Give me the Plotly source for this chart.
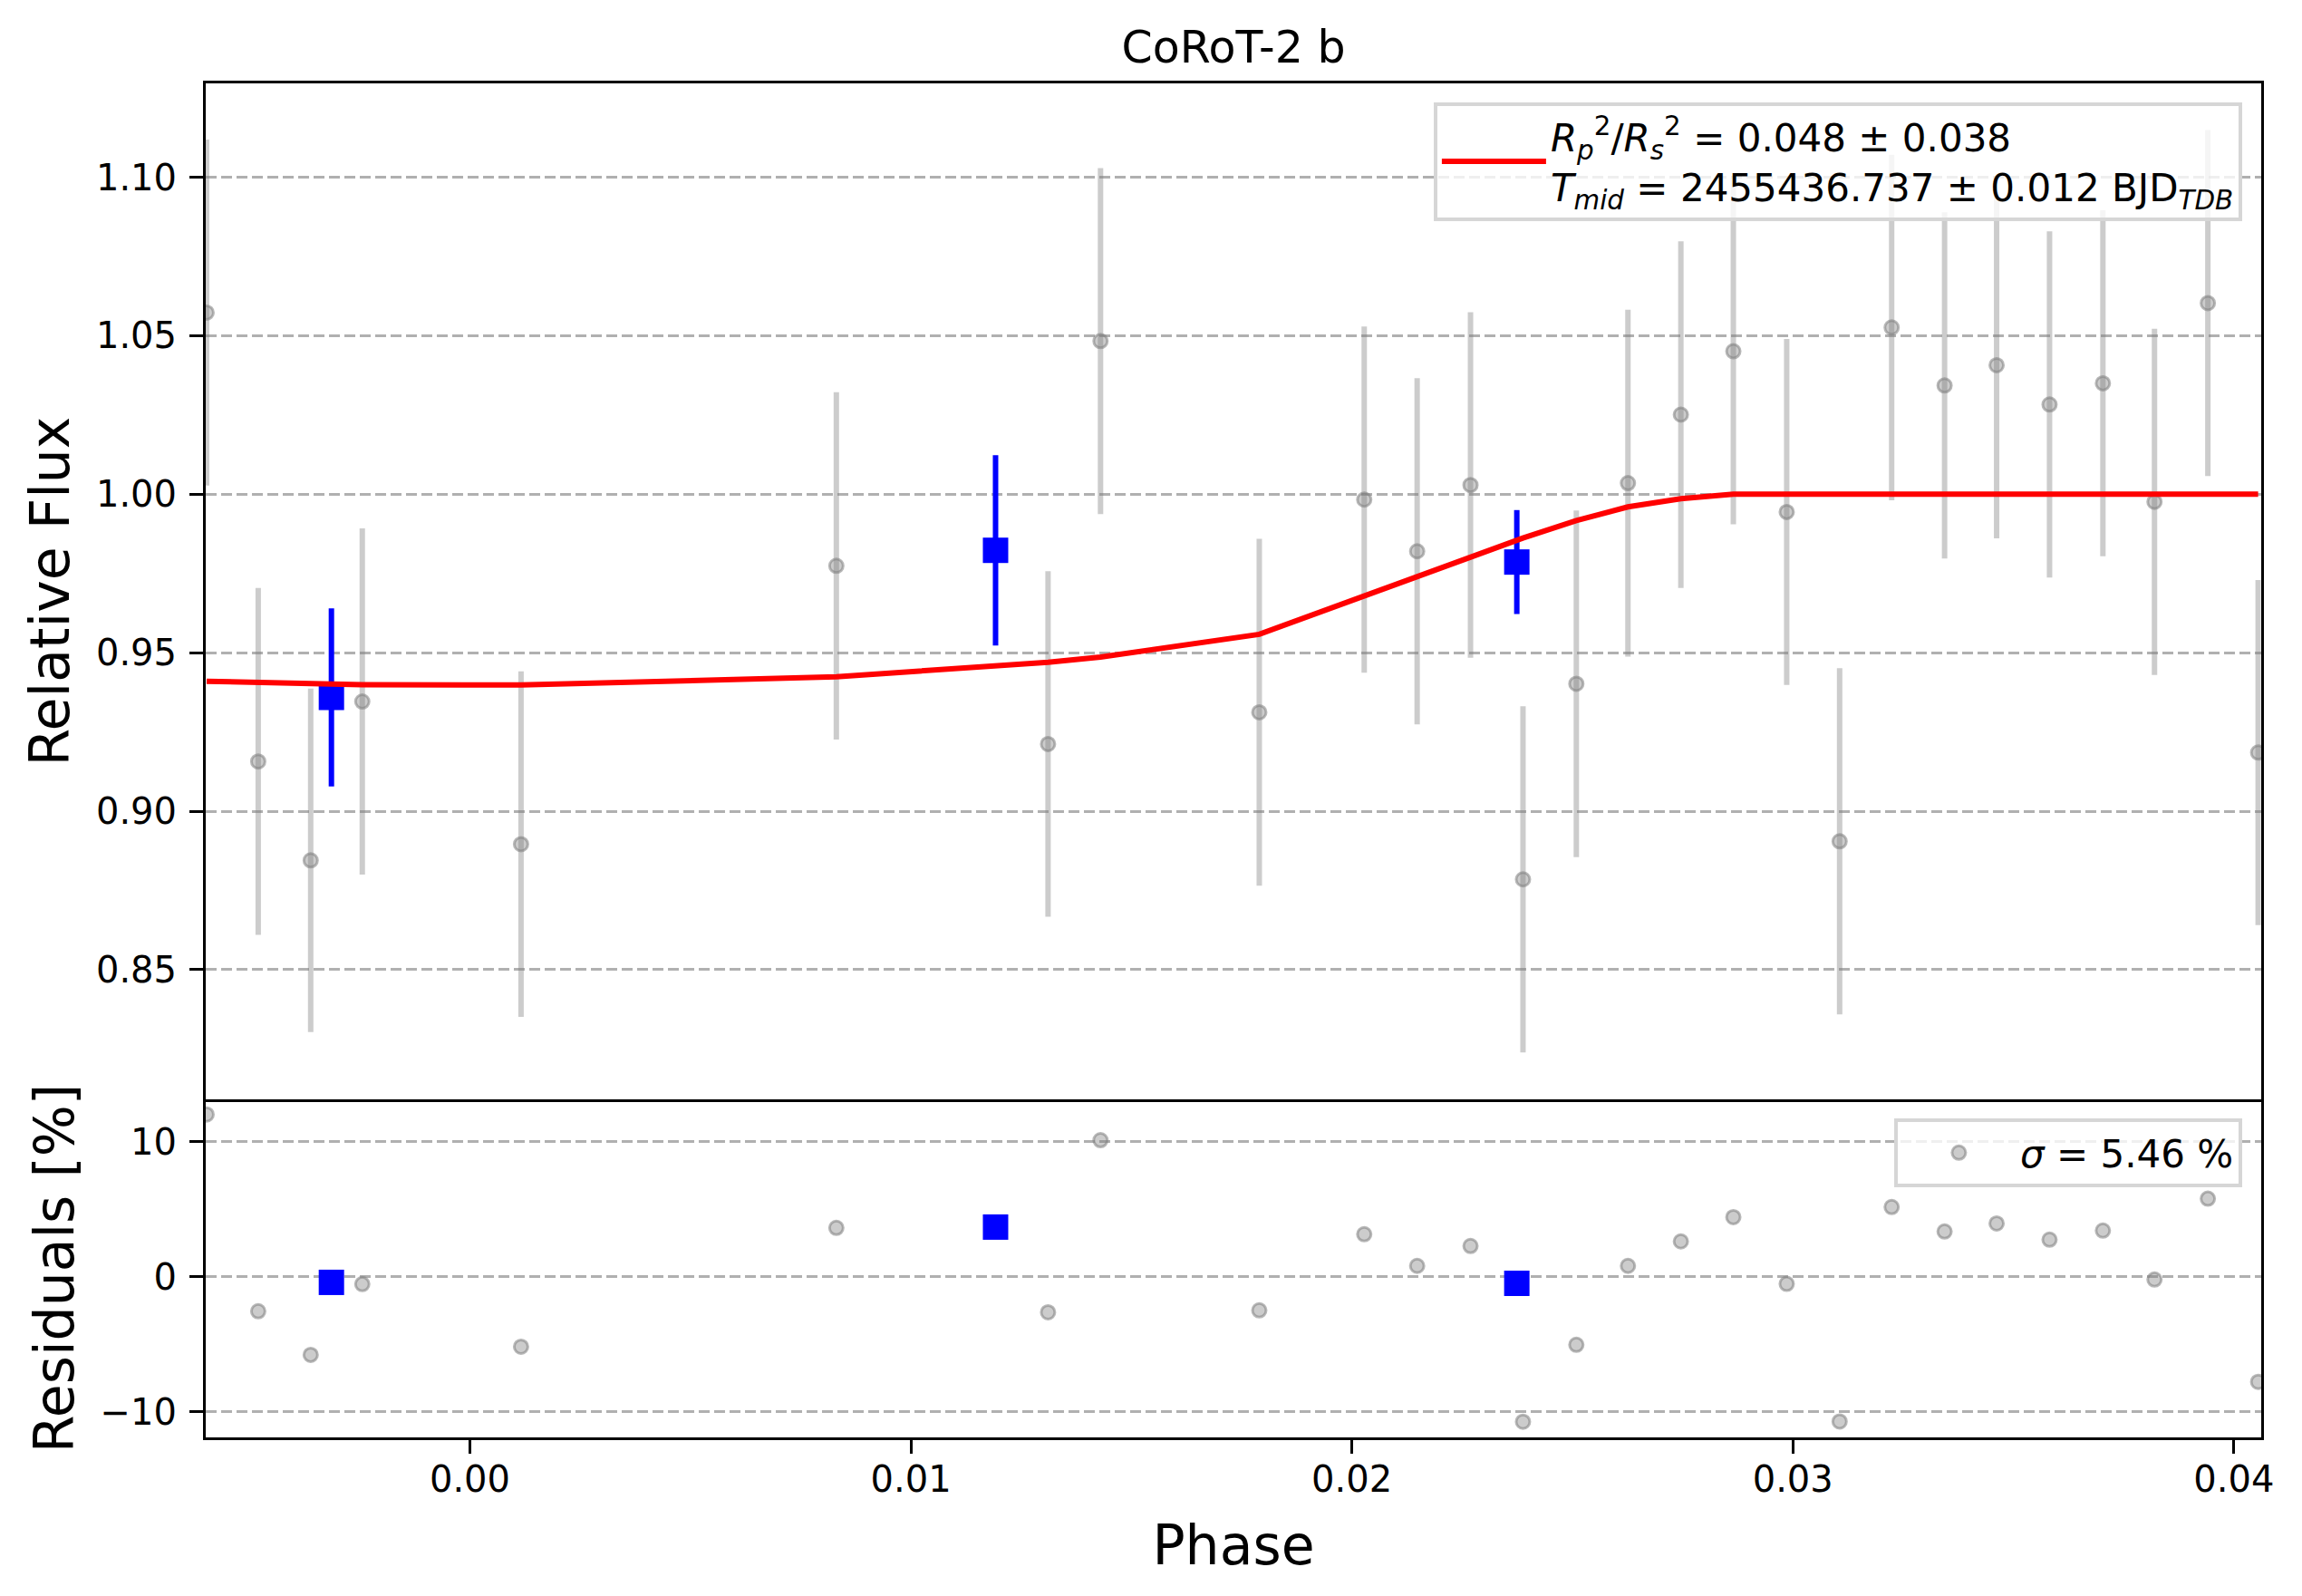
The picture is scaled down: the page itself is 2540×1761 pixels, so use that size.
import plotly.graph_objects as go
from plotly.subplots import make_subplots

# ---- data ----
phase = [-0.00597, -0.00480, -0.00361, -0.00244, 0.00116, 0.00831, 0.01311, 0.01430,
         0.01790, 0.02028, 0.02148, 0.02269, 0.02388, 0.02509, 0.02626, 0.02746,
         0.02865, 0.02986, 0.03106, 0.03224, 0.03344, 0.03462, 0.03582, 0.03703,
         0.03820, 0.03941, 0.04055]
flux = [1.0573, 0.9157, 0.8845, 0.9346, 0.8896, 0.9774, 0.9212, 1.0483,
        0.9312, 0.9983, 0.9820, 1.0029, 0.8785, 0.9402, 1.0035, 1.0251,
        1.0451, 0.9944, 0.8905, 1.0526, 1.0343, 1.0407, 1.0283, 1.0350,
        0.9976, 1.0603, 0.9185]
flux_err = [0.0546, 0.0547, 0.0542, 0.0546, 0.0545, 0.0548, 0.0545, 0.0546,
            0.0547, 0.0546, 0.0546, 0.0545, 0.0546, 0.0547, 0.0547, 0.0547,
            0.0546, 0.0546, 0.0546, 0.0545, 0.0546, 0.0546, 0.0546, 0.0546,
            0.0546, 0.0546, 0.0544]
model = [0.9410, 0.9405, 0.9401, 0.9399, 0.9398, 0.9424, 0.9470, 0.9486,
         0.9558, 0.9678, 0.9740, 0.9804, 0.9862, 0.9917, 0.9960, 0.9986,
         1.0000, 1.0000, 1.0000, 1.0000, 1.0000, 1.0000, 1.0000, 1.0000,
         1.0000, 1.0000, 1.0000]
residuals = [12.01, -2.55, -5.77, -0.54, -5.17, 3.62, -2.62, 10.11,
             -2.48, 3.15, 0.81, 2.28, -10.72, -5.03, 0.81, 2.62,
             4.42, -0.52, -10.70, 5.16, 3.35, 3.95, 2.75, 3.42,
             -0.20, 5.78, -7.77]

bin_phase = [-0.00314, 0.01192, 0.02374]
bin_flux = [0.9359, 0.9823, 0.9786]
bin_err = [0.0281, 0.0300, 0.0164]
bin_resid = [-0.41, 3.68, -0.48]

title_text = "CoRoT-2 b"
model_label = ("<i>R</i><sub><i>p</i></sub><sup>2</sup>/<i>R</i><sub><i>s</i></sub><sup>2</sup>"
               " = 0.048 ± 0.038<br><i>T</i><sub><i>mid</i></sub> = 2455436.737 ± 0.012 "
               "BJD<sub><i>TDB</i></sub>")
resid_label = "<i>σ</i> = 5.46 %"

flux_ticks = [0.85, 0.90, 0.95, 1.00, 1.05, 1.10]
flux_ticktext = ["0.85", "0.90", "0.95", "1.00", "1.05", "1.10"]
res_ticks = [-10, 0, 10]
res_ticktext = ["\u221210", "0", "10"]
phase_ticks = [0.00, 0.01, 0.02, 0.03, 0.04]
phase_ticktext = ["0.00", "0.01", "0.02", "0.03", "0.04"]

x_range = [-0.00599, 0.04062]
flux_range = [0.8091, 1.1296]
res_range = [-11.88, 13.13]

# ---- figure ----
# the page body adds an 8px offset, so the figure is 8px smaller and shifted
OFF = 8
W, H = 2540 - OFF, 1761 - OFF
ml, mr, mt, mb = 227 - OFF, 45, 92 - OFF, 175
split = (1586 - 1213) / (1586 - 92)

FONT = "DejaVu Sans"
gray = "rgba(128,128,128,0.4)"
gray_edge = "rgba(128,128,128,0.55)"

fig = make_subplots(rows=2, cols=1, shared_xaxes=True, vertical_spacing=0,
                    row_heights=[1 - split, split])

fig.add_trace(go.Scatter(
    x=phase, y=flux, mode="markers",
    marker=dict(size=15, color=gray, line=dict(color=gray_edge, width=3)),
    error_y=dict(type="data", array=flux_err, color=gray, thickness=6, width=0),
    showlegend=False, hoverinfo="skip"), row=1, col=1)

fig.add_trace(go.Scatter(
    x=bin_phase, y=bin_flux, mode="markers",
    marker=dict(size=28, symbol="square", color="blue", line=dict(width=0)),
    error_y=dict(type="data", array=bin_err, color="blue", thickness=6, width=0),
    showlegend=False), row=1, col=1)

fig.add_trace(go.Scatter(
    x=phase, y=model, mode="lines", line=dict(color="red", width=6),
    name=model_label, legend="legend", showlegend=True), row=1, col=1)

fig.add_trace(go.Scatter(
    x=phase, y=residuals, mode="markers",
    marker=dict(size=15, color=gray, line=dict(color=gray_edge, width=3)),
    name=resid_label, legend="legend2", showlegend=True), row=2, col=1)

fig.add_trace(go.Scatter(
    x=bin_phase, y=bin_resid, mode="markers",
    marker=dict(size=28, symbol="square", color="blue", line=dict(width=0)),
    showlegend=False), row=2, col=1)

axis_common = dict(showline=True, linecolor="black", linewidth=3,
                   zeroline=False, tickcolor="black", tickwidth=3, ticklen=15,
                   tickfont=dict(family=FONT, size=40, color="black"))
grid = dict(showgrid=True, gridcolor="#b0b0b0", gridwidth=3, griddash="12px,5px")

fig.update_xaxes(range=x_range, showgrid=False, **axis_common)
# main panel: box on top and bottom (bottom line is the panel split)
fig.update_xaxes(showticklabels=False, ticks="", mirror=True, row=1, col=1)
# residual panel: only its bottom line
fig.update_xaxes(tickvals=phase_ticks, ticktext=phase_ticktext, ticks="outside",
                 mirror=False, ticklabelstandoff=-6,
                 title=dict(text="Phase", font=dict(family=FONT, size=60, color="black"),
                            standoff=30),
                 row=2, col=1)
fig.update_yaxes(range=flux_range, tickvals=flux_ticks, ticktext=flux_ticktext,
                 ticks="outside", ticklabelstandoff=6, mirror=True,
                 title=dict(text="Relative Flux",
                            font=dict(family=FONT, size=60, color="black"), standoff=10),
                 row=1, col=1, **axis_common, **grid)
fig.update_yaxes(range=res_range, tickvals=res_ticks, ticktext=res_ticktext,
                 ticks="outside", ticklabelstandoff=6, mirror=True,
                 title=dict(text="Residuals [%]",
                            font=dict(family=FONT, size=60, color="black"), standoff=10),
                 row=2, col=1, **axis_common, **grid)

legend_style = dict(bgcolor="rgba(255,255,255,0.8)", bordercolor="#d6d6d6",
                    borderwidth=4, font=dict(family=FONT, size=42, color="black"),
                    xanchor="right", yanchor="top", xref="paper", yref="paper")

fig.update_layout(
    width=W, height=H,
    margin=dict(l=ml, r=mr, t=mt, b=mb),
    paper_bgcolor="white", plot_bgcolor="white",
    title=dict(text=title_text, x=(ml + (W - mr)) / 2 / W, xanchor="center",
               y=1 - (52 - OFF) / H, yanchor="middle", yref="container",
               font=dict(family=FONT, size=49, color="black")),
    legend=dict(x=0.9907, y=0.986, itemwidth=115, **legend_style),
    legend2=dict(x=0.9907, y=0.2356, itemwidth=125, **legend_style),
    font=dict(family=FONT, color="black"),
)

fig.write_html("out.html")
